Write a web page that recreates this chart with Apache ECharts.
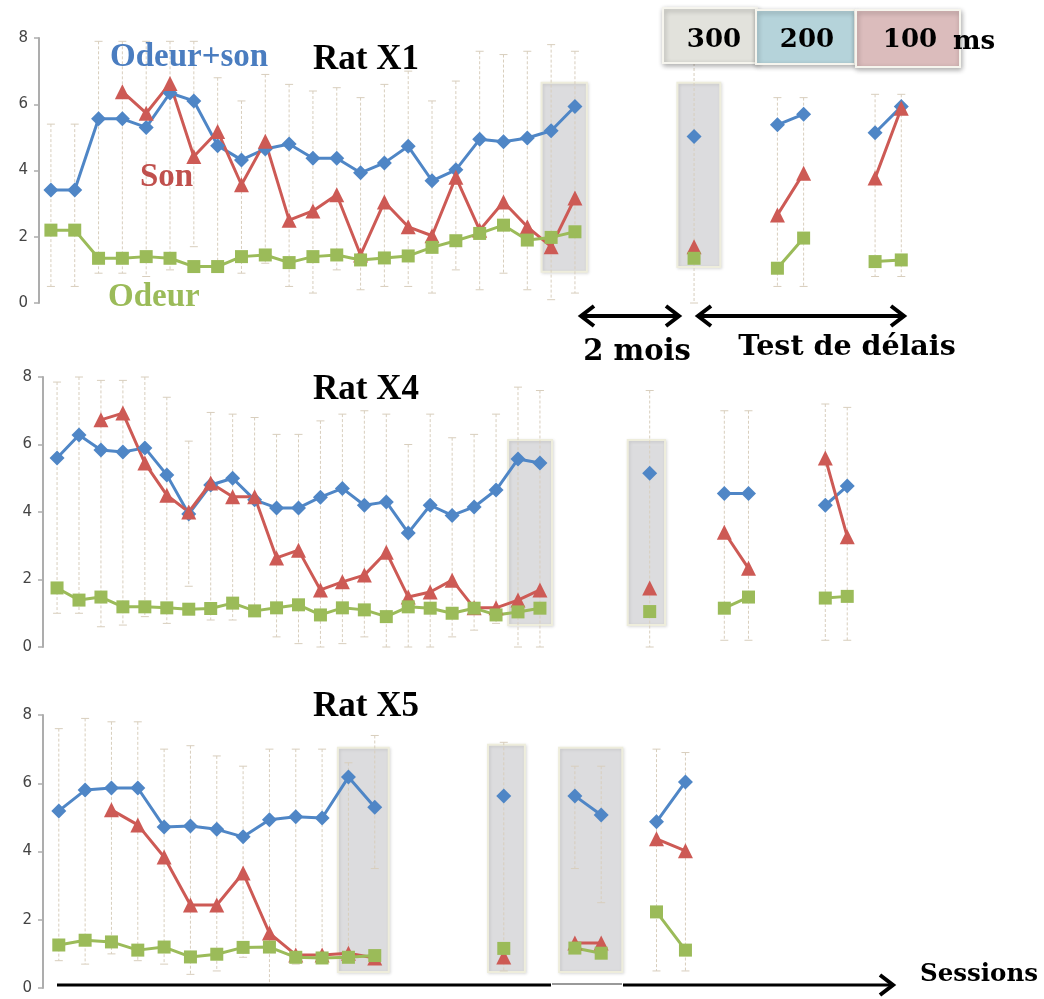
<!DOCTYPE html>
<html>
<head>
<meta charset="utf-8">
<script src="https://cdn.jsdelivr.net/npm/echarts@6/dist/echarts.min.js"></script>
<style>
  html, body { margin: 0; padding: 0; background: #fff; }
  #main { width: 1044px; height: 999px; }
</style>
</head>
<body>
<div id="main"></div>
<script>
// session positions (slot numbers along the sessions axis) and mean scores
var x1 = [1,2,3,4,5,6,7,8,9,10,11,12,13,14,15,16,17,18,19,20,21,22,23, 28, 31.5,32.6, 35.6,36.7];
var blue1 = [3.41,3.41,5.56,5.56,5.3,6.34,6.1,4.75,4.32,4.65,4.8,4.37,4.37,3.93,4.23,4.73,3.69,4.02,4.94,4.87,4.98,5.2,5.93, 5.03, 5.38,5.7, 5.14,5.93];
var red1 = [null,null,null,6.38,5.73,6.63,4.42,5.18,3.57,4.88,2.5,2.78,3.27,1.45,3.05,2.3,2.03,3.8,2.2,3.05,2.3,1.7,3.17, 1.7, 2.66,3.92, 3.77,5.88];
var green1 = [2.2,2.2,1.35,1.35,1.4,1.35,1.1,1.1,1.4,1.45,1.22,1.4,1.45,1.3,1.36,1.42,1.68,1.88,2.1,2.35,1.9,1.98,2.15, 1.35, 1.05,1.96, 1.25,1.3];
var hi1 = [5.4,5.4,7.9,7.9,7.9,7.9,7.9,6.8,6.1,6.9,6.6,6.4,6.5,6.2,6.6,7.0,6.1,6.7,7.6,7.5,7.6,7.8,7.6, 8.0, 6.2,6.2, 6.3,6.3];
var lo1 = [0.5,0.5,0.9,0.9,0.8,1.0,1.7,1.0,0.9,1.2,0.5,0.3,1.0,0.4,0.5,0.5,0.3,1.0,0.4,0.9,0.4,0.1,0.3, 0.0, 0.5,0.5, 0.8,0.8];

var x2 = [1,2,3,4,5,6,7,8,9,10,11,12,13,14,15,16,17,18,19,20,21,22,23, 28, 31.4,32.5, 36,37];
var blue2 = [5.6,6.28,5.84,5.78,5.9,5.1,3.94,4.8,5.0,4.36,4.12,4.12,4.44,4.7,4.2,4.3,3.38,4.2,3.9,4.15,4.65,5.57,5.45, 5.15, 4.55,4.55, 4.2,4.77];
var red2 = [null,null,6.73,6.93,5.45,4.5,4.0,4.86,4.45,4.45,2.64,2.87,1.69,1.93,2.13,2.81,1.48,1.63,1.98,1.16,1.16,1.39,1.69, 1.75, 3.4,2.33, 5.6,3.27];
var green2 = [1.75,1.39,1.48,1.19,1.19,1.16,1.12,1.14,1.3,1.07,1.16,1.25,0.95,1.16,1.1,0.9,1.19,1.15,1.0,1.15,0.95,1.04,1.15, 1.05, 1.15,1.48, 1.45,1.5];
var hi2 = [7.85,8.0,7.9,7.9,8.0,7.4,6.1,6.95,6.9,6.8,6.3,6.3,6.7,6.9,7.0,6.9,6.0,6.9,6.2,6.3,6.9,7.7,7.6, 7.6, 7.0,7.0, 7.2,7.1];
var lo2 = [1.0,1.0,0.6,0.65,0.9,0.7,1.8,0.8,0.8,1.0,0.3,0.1,0.0,0.1,0.3,0.0,0.0,0.0,0.3,0.5,0.7,0.0,0.0, 0.0, 0.2,0.2, 0.2,0.2];

var x3 = [1,2,3,4,5,6,7,8,9,10,11,12,13, 17.9, 20.6,21.6, 23.7,24.8];
var blue3 = [5.19,5.8,5.86,5.86,4.72,4.75,4.65,4.43,4.93,5.02,4.98,6.18,5.3, 5.63, 5.63,5.07, 4.87,6.04];
var red3 = [null,null,5.22,4.78,3.84,2.43,2.43,3.37,1.61,0.97,0.97,1.02,0.88, 0.91, 1.32,1.32, 4.37,4.02];
var green3 = [1.26,1.4,1.35,1.11,1.2,0.91,0.99,1.19,1.2,0.9,0.88,0.9,0.95, 1.16, 1.17,1.02, 2.23,1.11];
var hi3 = [7.6,7.9,7.8,7.8,7.0,7.1,6.8,6.5,7.0,7.0,7.0,6.6,7.4, 7.2, 6.5,6.5, 7.0,6.9];
var lo3 = [0.8,0.7,1.0,0.8,0.7,0.4,0.5,0.9,0.1,0.7,0.9,0.8,3.5, 0.5, 3.5,2.5, 0.5,0.5];

// grey highlight boxes: [xFrom, xTo, yFrom, yTo]
var boxes1 = [[21.6,23.5,0.94,6.65],[27.3,29.1,1.09,6.65]];
var boxes2 = [[21.55,23.55,0.65,6.13],[27.0,28.7,0.65,6.13]];
var boxes3 = [[11.6,13.53,0.47,7.04],[17.3,18.7,0.47,7.13],[20.0,22.4,0.47,7.04]];

var yTicks = [0, 2, 4, 6, 8];
var names = ['Odeur+son', 'Son', 'Odeur'];
var colors = ['#4f86c6', '#cd5a55', '#9bbb59'];
var symbols = ['diamond', 'triangle', 'rect'];
var symSizes = [15, 15, 13];

var myChart = echarts.init(document.getElementById('main'));

// build line data, breaking the line where sessions are not consecutive
function toData(xs, ys) {
  var out = [], prev = null;
  for (var i = 0; i < xs.length; i++) {
    if (ys[i] == null) continue;
    if (prev != null && xs[i] - prev > 1.5) out.push([(prev + xs[i]) / 2, '-']);
    out.push([xs[i], ys[i]]);
    prev = xs[i];
  }
  return out;
}

function errRender(params, api) {
  var x = api.value(0);
  var top = api.coord([x, api.value(2)]);
  var bot = api.coord([x, api.value(1)]);
  var c = '#d8cebd';
  return {
    type: 'group',
    children: [
      { type: 'line', shape: { x1: top[0], y1: top[1], x2: bot[0], y2: bot[1] }, style: { stroke: c, lineWidth: 1, lineDash: [3, 2] } },
      { type: 'line', shape: { x1: top[0] - 4, y1: top[1], x2: top[0] + 4, y2: top[1] }, style: { stroke: c, lineWidth: 1 } },
      { type: 'line', shape: { x1: bot[0] - 4, y1: bot[1], x2: bot[0] + 4, y2: bot[1] }, style: { stroke: c, lineWidth: 1 } }
    ]
  };
}

var panels = [
  { xs: x1, ys: [blue1, red1, green1], lo: lo1, hi: hi1, boxes: boxes1, left: 39, top: 38, height: 265, min: 0.5, max: 41, px: 23.82 },
  { xs: x2, ys: [blue2, red2, green2], lo: lo2, hi: hi2, boxes: boxes2, left: 43, top: 377, height: 270, min: 0.36, max: 45, px: 21.95 },
  { xs: x3, ys: [blue3, red3, green3], lo: lo3, hi: hi3, boxes: boxes3, left: 43, top: 715, height: 273, min: 0.4, max: 37, px: 26.33 }
];

var grids = [], xAxes = [], yAxes = [], series = [];
panels.forEach(function (p, k) {
  grids.push({ left: p.left, top: p.top, height: p.height, width: (p.max - p.min) * p.px });
  xAxes.push({ gridIndex: k, type: 'value', min: p.min, max: p.max, show: false });
  yAxes.push({
    gridIndex: k, type: 'value', min: yTicks[0], max: yTicks[yTicks.length - 1], interval: 2,
    splitLine: { show: false },
    axisLine: { show: true, lineStyle: { color: '#adadad', width: 2 } },
    axisTick: { show: true, length: 5, lineStyle: { color: '#adadad', width: 1.5 } },
    axisLabel: { color: '#444', fontSize: 15, fontFamily: 'DejaVu Sans', margin: 11 }
  });
  series.push({
    type: 'custom', xAxisIndex: k, yAxisIndex: k, renderItem: errRender, z: 1, silent: true,
    encode: { x: 0, y: [1, 2] },
    data: p.xs.map(function (x, i) { return [x, p.lo[i], p.hi[i]]; })
  });
  p.ys.forEach(function (ys, s) {
    series.push({
      type: 'line', name: names[s], xAxisIndex: k, yAxisIndex: k, z: 2,
      data: toData(p.xs, ys),
      symbol: symbols[s], symbolSize: symSizes[s], connectNulls: false,
      lineStyle: { color: colors[s], width: 3 },
      itemStyle: { color: colors[s] }
    });
  });
  series.push({
    type: 'line', xAxisIndex: k, yAxisIndex: k, z: 5, data: [], silent: true,
    markArea: {
      silent: true,
      itemStyle: { color: 'rgba(208,208,212,0.55)', borderColor: '#eeeddc', borderWidth: 2, shadowBlur: 3, shadowColor: 'rgba(0,0,0,0.15)', shadowOffsetX: 1, shadowOffsetY: 1 },
      data: p.boxes.map(function (b) { return [{ xAxis: b[0], yAxis: b[3] }, { xAxis: b[1], yAxis: b[2] }]; })
    }
  });
});

function txt(text, x, y, size, color, fam, align) {
  return { type: 'text', z: 20, style: { text: text, x: x, y: y, fill: color || '#000', font: 'bold ' + size + 'px "' + (fam || 'Liberation Serif') + '"', textAlign: align || 'left', textVerticalAlign: 'middle' } };
}
function arrowHead(x, y, dir) {
  return { type: 'polyline', z: 20, shape: { points: [[x - dir * 13, y - 10], [x, y], [x - dir * 13, y + 10]] }, style: { stroke: '#000', lineWidth: 4, fill: null } };
}
function hline(x1, x2, y, w, c) {
  return { type: 'line', z: 20, shape: { x1: x1, y1: y, x2: x2, y2: y }, style: { stroke: c || '#000', lineWidth: w } };
}
function legBox(x, y, w, h, fill) {
  return { type: 'rect', z: 19, shape: { x: x, y: y, width: w, height: h }, style: { fill: fill, stroke: '#f6f5ee', lineWidth: 2, shadowBlur: 5, shadowColor: 'rgba(0,0,0,0.3)', shadowOffsetX: 1, shadowOffsetY: 2 } };
}

var graphics = [
  txt('Odeur+son', 110, 57, 33, '#4a7dc0'),
  txt('Son', 140, 177, 33, '#c0504d'),
  txt('Odeur', 108, 297, 33, '#9bbb59'),
  txt('Rat X1', 313, 60, 35),
  txt('Rat X4', 313, 390, 35),
  txt('Rat X5', 313, 707, 35),
  legBox(663, 8, 94, 55, '#e2e2dc'),
  legBox(756, 10, 99, 54, '#b5d3da'),
  legBox(856, 10, 104, 57, '#dbbcbc'),
  txt('300', 714, 40, 26, '#000', 'DejaVu Serif', 'center'),
  txt('200', 807, 40, 26, '#000', 'DejaVu Serif', 'center'),
  txt('100', 910, 40, 26, '#000', 'DejaVu Serif', 'center'),
  txt('ms', 974, 42, 26, '#000', 'DejaVu Serif', 'center'),
  hline(581, 679, 316, 4), arrowHead(581, 316, -1), arrowHead(679, 316, 1),
  hline(698, 904, 316, 4), arrowHead(698, 316, -1), arrowHead(904, 316, 1),
  txt('2 mois', 637, 352, 29, '#000', 'DejaVu Serif', 'center'),
  txt('Test de délais', 847, 348, 28.5, '#000', 'DejaVu Serif', 'center'),
  hline(57, 551, 985, 3), hline(552, 622, 984, 1.5, '#777'), hline(623, 891, 985, 3),
  arrowHead(893, 985, 1),
  txt('Sessions', 979, 975, 24.5, '#000', 'DejaVu Serif', 'center')
];

var option = {
  backgroundColor: '#fff',
  animation: false,
  grid: grids,
  xAxis: xAxes,
  yAxis: yAxes,
  series: series,
  graphic: graphics
};
myChart.setOption(option);
</script>
</body>
</html>
